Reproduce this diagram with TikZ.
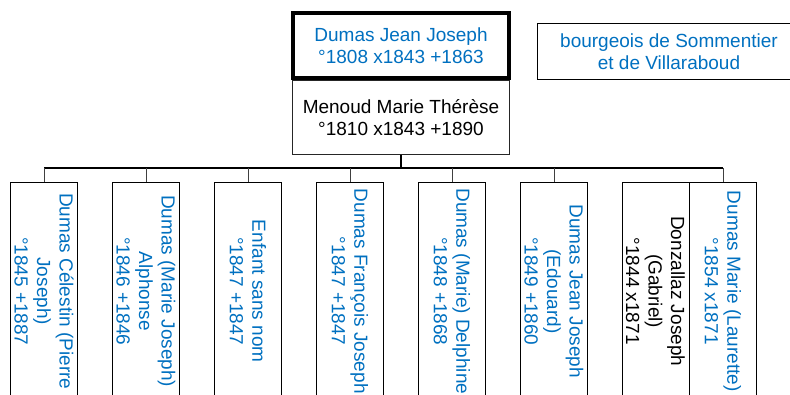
\documentclass[tikz,border=0pt]{standalone}
\usepackage{fontspec}
\setmainfont{Liberation Sans}
\definecolor{gblue}{RGB}{0,112,192}
\begin{document}
\begin{tikzpicture}[x=1pt,y=-1pt,
  box/.style={draw, line width=1pt, rectangle, align=center, inner sep=0pt,
    font=\fontsize{19}{21.5}\selectfont},
  kid/.style={box, rotate=-90, minimum width=217.5pt, minimum height=67pt,
    text=gblue, font=\fontsize{19}{22.5}\selectfont},
  bar/.style={line width=1.2pt},
  tick/.style={line width=0.8pt, black!75}]
\useasboundingbox (0,0) rectangle (790,394);
\clip (0,0) rectangle (790,394);
% parents
\node[box, draw=black!85, minimum width=217pt, minimum height=74pt] (sp) at (401,117.5)
  {Menoud Marie Thérèse\\°1810 x1843 +1890};
\node[box, line width=4pt, minimum width=216pt, minimum height=65pt, text=gblue, fill=white] (hd) at (401,45.5)
  {Dumas Jean Joseph\\°1808 x1843 +1863};
\node[box, minimum width=264pt, minimum height=56pt, text=gblue] (bg) at (669,51.5)
  {bourgeois de Sommentier\\et de Villaraboud};
% children
\node[kid] (c1) at (44,291.25) {Dumas Célestin (Pierre\\Joseph)\\°1845 +1887};
\node[kid] (c2) at (146,291.25) {Dumas (Marie Joseph)\\Alphonse\\°1846 +1846};
\node[kid] (c3) at (248,291.25) {Enfant sans nom\\°1847 +1847};
\node[kid] (c4) at (350,291.25) {Dumas François Joseph\\°1847 +1847};
\node[kid] (c5) at (452,291.25) {Dumas (Marie) Delphine\\°1848 +1868};
\node[kid] (c6) at (554,291.25) {Dumas Jean Joseph\\(Edouard)\\°1849 +1860};
\node[kid, text=black] (c7) at (655.5,291.25) {Donzallaz Joseph\\(Gabriel)\\°1844 x1871};
\node[kid] (c8) at (723,291.25) {Dumas Marie (Laurette)\\°1854 x1871};
% connectors
\coordinate (j) at (401,168);
\draw[bar] (c1.west |- j) -- (c8.west |- j);
\draw[line width=2pt] (sp.south) -- (j);
\foreach \i in {1,2,3,4,5,6,8}
  \draw[tick] (c\i.west) -- (c\i.west |- j);
\end{tikzpicture}
\end{document}
